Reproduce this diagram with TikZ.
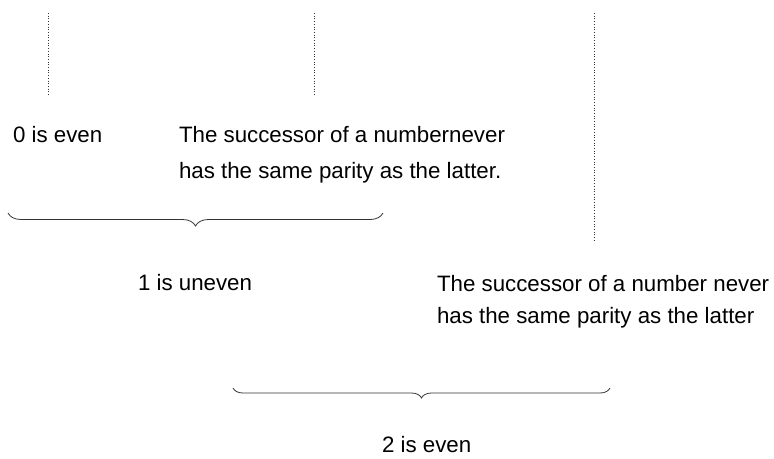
\documentclass[tikz,border=0pt]{standalone}
\usepackage{fontspec}
\setmainfont{Liberation Sans}
\usetikzlibrary{positioning, decorations.pathreplacing}
\definecolor{inkgray}{HTML}{333333}

\begin{document}
\begin{tikzpicture}[
  x=1pt, y=-1pt,
  every node/.style={inner sep=0pt, outer sep=0pt, text=black},
  label/.style={anchor=base west, font=\fontsize{22.3}{36}\selectfont, align=left},
  guide/.style={dotted, line width=0.7pt, inkgray},
  bracket/.style={decorate, line width=0.8pt, inkgray}
]
\useasboundingbox (0,0) rectangle (774,458);

% Vertical guides
\coordinate (gA top) at (48,13);
\coordinate (gA bot) at (48,95);
\coordinate (gB top) at (314,13);
\coordinate (gB bot) at (314,95);
\coordinate (gC top) at (594,13);
\coordinate (gC bot) at (594,240);
\draw[guide] (gA top) -- (gA bot);
\draw[guide] (gB top) -- (gB bot);
\draw[guide] (gC top) -- (gC bot);

% First step: 0 and the successor rule (base = last line)
\node[label] (zero) at (13,142) {0 is even};
\node[label] (succA) at (179,178) {The successor of a numbernever\\has the same parity as the latter.};

% First brace
\coordinate (bA left) at (8,213);
\coordinate (bA right) at (383,213);
\draw[bracket, decoration={brace, mirror, amplitude=13pt}] (bA left) -- (bA right);

% Second step: 1 and the successor rule
\node[label] (one) at (138,290) {1 is uneven};
\node[label, font=\fontsize{22.3}{32}\selectfont] (succB) at (437,323) {The successor of a number never\\has the same parity as the latter};

% Second brace
\coordinate (bB left) at (233,388);
\coordinate (bB right) at (610,388);
\draw[bracket, decoration={brace, mirror, amplitude=10pt}] (bB left) -- (bB right);

% Result
\node[label] (two) at (382,452) {2 is even};

\end{tikzpicture}
\end{document}
